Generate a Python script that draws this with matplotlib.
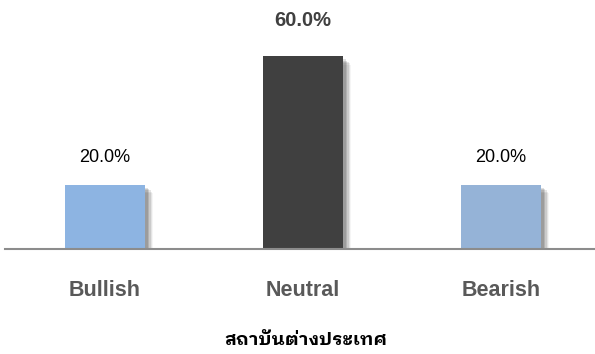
import matplotlib
matplotlib.use("Agg")
import matplotlib.pyplot as plt
import matplotlib.patheffects as pe

categories = ["Bullish", "Neutral", "Bearish"]
values = [20.0, 60.0, 20.0]
colors = ["#8DB4E2", "#404040", "#95B3D7"]
title = "สถาบันต่างประเทศ"

plt.rcParams["font.family"] = ["Liberation Sans", "DejaVu Sans"]

W, H = 595, 354
fig = plt.figure(figsize=(W / 100, H / 100), dpi=100)
# baseline at 105 px from the bottom, 1% = 3.21 px
ax = fig.add_axes([5 / W, 105 / H, 590 / W, 1 - 105 / H])
ax.set_xlim(-0.505, 2.475)
ax.set_ylim(0, (H - 105) / 3.21)
ax.axis("off")

# soft shadow made of a few offset layers
shadow = [pe.SimplePatchShadow(offset=(d, -d), shadow_rgbFace="black", alpha=a)
          for d, a in [(6, 0.04), (5, 0.07), (4, 0.1), (3, 0.12), (2, 0.12)]] + [pe.Normal()]

x = range(len(categories))
bars = ax.bar(x, values, width=0.404, color=colors, zorder=2)
for b in bars:
    b.set_path_effects(shadow)

ax.axhline(0, color="#8C8C8C", lw=1.5, zorder=3, clip_on=False)

for i, v in enumerate(values):
    if v == max(values):
        ax.annotate(f"{v:.1f}%", (i, v), xytext=(0, 26), textcoords="offset points",
                    ha="center", va="center", fontsize=14.5, fontweight="bold", color="#404040")
    else:
        ax.annotate(f"{v:.1f}%", (i, v), xytext=(0, 20), textcoords="offset points",
                    ha="center", va="center", fontsize=13, color="black")
    ax.annotate(categories[i], (i, 0), xytext=(0, -30), textcoords="offset points",
                ha="center", va="center", fontsize=15.5, fontweight="bold", color="#595959")

fig.text(306 / W, 1 - 340 / H, title, ha="center", va="center", fontsize=13.2,
         fontweight="bold", color="black",
         family=["IBM Plex Sans Thai Looped", "Noto Sans Thai"])

fig.savefig("out.png", dpi=100)
